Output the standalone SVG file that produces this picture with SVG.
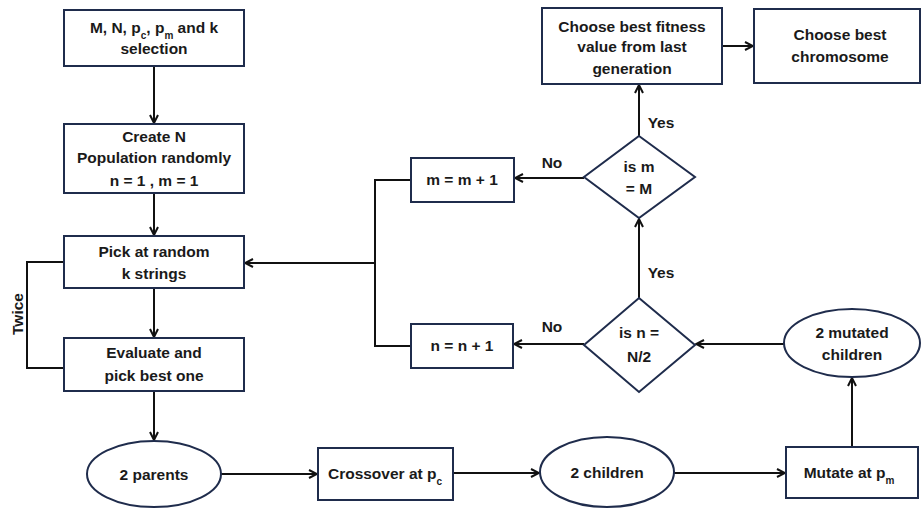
<svg xmlns="http://www.w3.org/2000/svg" width="924" height="508" viewBox="0 0 924 508">
<style>
.node rect,.node ellipse,.node polygon{fill:#fff;stroke:#1f2c4c;stroke-width:2}
text{font-family:"Liberation Sans",Arial,sans-serif;font-weight:bold;font-size:15.5px;fill:#1a1a1a;text-anchor:middle}
.conn path{fill:none;stroke:#111;stroke-width:2}
.sub{font-size:10px}
</style>
<defs>
<marker id="arr" viewBox="0 0 10 10" refX="9" refY="5" markerWidth="10" markerHeight="10" markerUnits="userSpaceOnUse" orient="auto">
<path d="M1,1 L9,5 L1,9" fill="none" stroke="#111" stroke-width="2"/>
</marker>
</defs>
<rect width="924" height="508" fill="#fff"/>
<g class="conn">
<path d="M154,66 V123" marker-end="url(#arr)"/>
<path d="M154,193 V235" marker-end="url(#arr)"/>
<path d="M154,288 V337" marker-end="url(#arr)"/>
<path d="M154,391 V440" marker-end="url(#arr)"/>
<path d="M64,262 H27 V368 H64"/>
<path d="M221,474 H317" marker-end="url(#arr)"/>
<path d="M453,473 H539" marker-end="url(#arr)"/>
<path d="M674,473 H785" marker-end="url(#arr)"/>
<path d="M852,447 V378" marker-end="url(#arr)"/>
<path d="M784,344 H696" marker-end="url(#arr)"/>
<path d="M584,344 H514" marker-end="url(#arr)"/>
<path d="M639,298 V219" marker-end="url(#arr)"/>
<path d="M584,178 H515" marker-end="url(#arr)"/>
<path d="M639,136 V85" marker-end="url(#arr)"/>
<path d="M722,46 H753" marker-end="url(#arr)"/>
<path d="M411,180 H375 V346 H411"/>
<path d="M375,263 H245" marker-end="url(#arr)"/>
</g>
<text x="0" y="0" transform="translate(23,314) rotate(-90)">Twice</text>
<text x="552" y="168">No</text>
<text x="552" y="332">No</text>
<text x="661" y="128">Yes</text>
<text x="661" y="278">Yes</text>
<g id="n-select" class="node">
<rect x="64" y="10" width="180" height="56"/>
<text x="154" y="33">M, N, p<tspan class="sub" baseline-shift="sub">c</tspan>, p<tspan class="sub" baseline-shift="sub">m</tspan> and k</text>
<text x="154" y="54">selection</text>
</g>
<g id="n-create" class="node">
<rect x="64" y="124" width="180" height="69"/>
<text x="154" y="142">Create N</text>
<text x="154" y="163">Population randomly</text>
<text x="154" y="186">n = 1 , m = 1</text>
</g>
<g id="n-pick" class="node">
<rect x="64" y="236" width="180" height="52"/>
<text x="154" y="257">Pick at random</text>
<text x="154" y="279">k strings</text>
</g>
<g id="n-eval" class="node">
<rect x="64" y="338" width="180" height="53"/>
<text x="154" y="358">Evaluate and</text>
<text x="154" y="381">pick best one</text>
</g>
<g id="n-parents" class="node">
<ellipse cx="154" cy="474" rx="67" ry="33"/>
<text x="154" y="480">2 parents</text>
</g>
<g id="n-crossover" class="node">
<rect x="318" y="448" width="135" height="52"/>
<text x="385" y="479">Crossover at p<tspan class="sub" baseline-shift="sub">c</tspan></text>
</g>
<g id="n-children" class="node">
<ellipse cx="607" cy="472" rx="67" ry="35"/>
<text x="607" y="478">2 children</text>
</g>
<g id="n-mutate" class="node">
<rect x="786" y="447" width="132" height="51"/>
<text x="849" y="478">Mutate at p<tspan class="sub" baseline-shift="sub">m</tspan></text>
</g>
<g id="n-mutated" class="node">
<ellipse cx="852" cy="343" rx="68" ry="34"/>
<text x="852" y="338">2 mutated</text>
<text x="852" y="360">children</text>
</g>
<g id="n-isn" class="node">
<polygon points="639,298 695,345 639,392 584,345"/>
<text x="639" y="338">is n =</text>
<text x="639" y="362">N/2</text>
</g>
<g id="n-nplus" class="node">
<rect x="411" y="324" width="102" height="44"/>
<text x="462" y="351">n = n + 1</text>
</g>
<g id="n-ism" class="node">
<polygon points="639,136 695,177 639,218 584,177"/>
<text x="639" y="172">is m</text>
<text x="639" y="194">= M</text>
</g>
<g id="n-mplus" class="node">
<rect x="411" y="158" width="103" height="44"/>
<text x="462" y="185">m = m + 1</text>
</g>
<g id="n-fitness" class="node">
<rect x="542" y="8" width="180" height="76"/>
<text x="632" y="32">Choose best fitness</text>
<text x="632" y="52">value from last</text>
<text x="632" y="74">generation</text>
</g>
<g id="n-best" class="node">
<rect x="754" y="9" width="166" height="74"/>
<text x="840" y="40">Choose best</text>
<text x="840" y="62">chromosome</text>
</g>
</svg>
